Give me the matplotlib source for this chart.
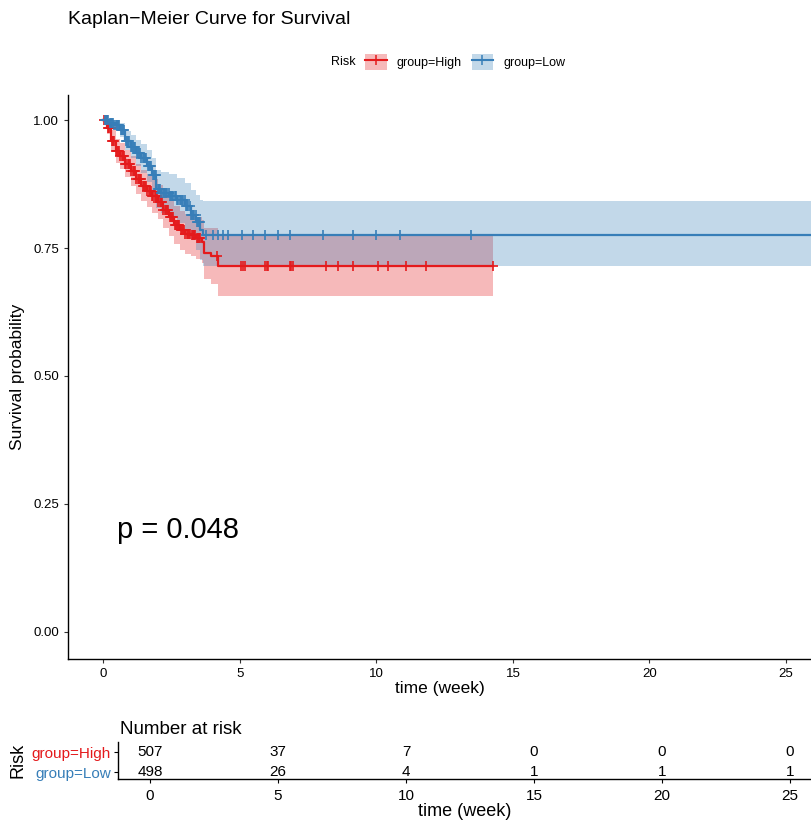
import numpy as np
import matplotlib.pyplot as plt
from matplotlib.patches import Patch
from matplotlib.lines import Line2D

plt.rcParams['font.family'] = ['Liberation Sans', 'DejaVu Sans']

red = '#E41A1C'
blue = '#377EB8'

# KM estimate, high risk group
time_high = [0, 0.15, 0.3, 0.45, 0.6, 0.8, 1.0, 1.2, 1.4, 1.6, 1.8, 2.0, 2.2, 2.4,
             2.6, 2.8, 3.0, 3.2, 3.4, 3.6, 3.7, 3.95, 4.2]
surv_high = [1.0, 0.985, 0.96, 0.94, 0.93, 0.915, 0.90, 0.885, 0.872, 0.862, 0.852,
             0.84, 0.825, 0.81, 0.795, 0.785, 0.778, 0.775, 0.77, 0.762, 0.74, 0.735, 0.714]
upper_high = [1.0, 0.997, 0.98, 0.963, 0.955, 0.942, 0.929, 0.915, 0.903, 0.894, 0.885,
              0.874, 0.86, 0.846, 0.832, 0.823, 0.817, 0.815, 0.811, 0.804, 0.79, 0.79, 0.774]
lower_high = [1.0, 0.973, 0.94, 0.917, 0.905, 0.888, 0.871, 0.855, 0.841, 0.83, 0.819,
              0.806, 0.79, 0.774, 0.758, 0.747, 0.739, 0.735, 0.729, 0.72, 0.69, 0.68, 0.656]
end_high = 14.27
cens_high = [0.04, 0.09, 0.13, 0.18, 0.22, 0.27, 0.31, 0.36, 0.4, 0.45, 0.49, 0.54, 0.58,
             0.63, 0.67, 0.72, 0.76, 0.81, 0.85, 0.9, 0.94, 0.99, 1.03, 1.08, 1.12, 1.17,
             1.21, 1.26, 1.3, 1.35, 1.39, 1.44, 1.48, 1.53, 1.57, 1.62, 1.66, 1.71, 1.75,
             1.8, 1.84, 1.89, 1.93, 1.98, 2.02, 2.07, 2.11, 2.16, 2.2, 2.25, 2.29, 2.34,
             2.38, 2.43, 2.47, 2.52, 2.56, 2.61, 2.65, 2.7, 2.74, 2.79, 2.83, 2.88, 2.92,
             2.97, 3.01, 3.06, 3.1, 3.15, 3.19, 3.24, 3.28, 3.33, 3.37, 3.42, 3.46, 3.51,
             3.55, 4.15, 5.06, 5.12, 5.18, 5.92, 5.98, 6.04, 6.83, 6.89, 6.95, 8.17, 8.6,
             9.15, 10.06, 10.43, 11.1, 11.83, 14.27]

# KM estimate, low risk group
time_low = [0, 0.2, 0.4, 0.6, 0.8, 1.0, 1.2, 1.4, 1.6, 1.8, 1.95, 2.1, 2.4, 2.7,
            3.0, 3.2, 3.4, 3.55, 3.65]
surv_low = [1.0, 0.995, 0.99, 0.98, 0.96, 0.948, 0.936, 0.925, 0.91, 0.892, 0.865,
            0.858, 0.852, 0.843, 0.832, 0.815, 0.80, 0.785, 0.775]
upper_low = [1.0, 1.0, 1.0, 0.994, 0.978, 0.97, 0.961, 0.953, 0.941, 0.926, 0.902,
             0.898, 0.894, 0.887, 0.878, 0.864, 0.853, 0.843, 0.841]
lower_low = [1.0, 0.99, 0.98, 0.966, 0.942, 0.926, 0.911, 0.897, 0.879, 0.858, 0.828,
             0.818, 0.81, 0.799, 0.786, 0.766, 0.747, 0.727, 0.715]
end_low = 27.0
cens_low = [0.05, 0.1, 0.14, 0.19, 0.23, 0.28, 0.32, 0.37, 0.41, 0.46, 0.5, 0.55, 0.59,
            0.64, 0.68, 0.73, 0.77, 0.82, 0.86, 0.91, 0.95, 1.0, 1.04, 1.09, 1.13, 1.18,
            1.22, 1.27, 1.31, 1.36, 1.4, 1.45, 1.49, 1.54, 1.58, 1.63, 1.67, 1.72, 1.76,
            1.81, 1.85, 1.9, 1.94, 1.99, 2.03, 2.08, 2.12, 2.17, 2.21, 2.26, 2.3, 2.35,
            2.39, 2.44, 2.48, 2.53, 2.57, 2.62, 2.66, 2.71, 2.75, 2.8, 2.84, 2.89, 2.93,
            2.98, 3.02, 3.07, 3.11, 3.16, 3.2, 3.25, 3.29, 3.34, 3.38, 3.43, 3.47, 3.5,
            3.54, 3.78, 4.02, 4.2, 4.39, 4.57, 5.07, 5.49, 5.92, 6.4, 6.83, 8.05, 9.15,
            10.0, 10.85, 13.48]

# number at risk table
risk_times = [0, 5, 10, 15, 20, 25]
risk_high = [507, 37, 7, 0, 0, 0]
risk_low = [498, 26, 4, 1, 1, 1]
group_labels = ['group=High', 'group=Low']
pval_text = 'p = 0.048'


def step_at(times, vals, t):
    idx = np.searchsorted(times, t, side='right') - 1
    return np.asarray(vals)[idx]


fig = plt.figure(figsize=(8.12, 8.22), dpi=100)
ax = fig.add_axes([68 / 812, 1 - 659 / 822, 1 - 68 / 812, (659 - 95) / 822])

curves = [
    (time_high, surv_high, lower_high, upper_high, end_high, cens_high, red),
    (time_low, surv_low, lower_low, upper_low, end_low, cens_low, blue),
]
for t, s, lo, up, tend, cens, col in curves:
    tt = list(t) + [tend]
    ax.fill_between(tt, list(lo) + [lo[-1]], list(up) + [up[-1]], step='post',
                    color=col, alpha=0.3, lw=0)
for t, s, lo, up, tend, cens, col in curves:
    tt = list(t) + [tend]
    ax.step(tt, list(s) + [s[-1]], where='post', color=col, lw=1.6)
    ax.plot(cens, step_at(t, s, cens), ls='none', marker='+', ms=6.5, mew=1.2, color=col)

ax.text(0.5, 0.2, pval_text, fontsize=21, va='center', ha='left')

ax.set_xlim(-1.29, 25.95)
ax.set_ylim(-0.053, 1.049)
ax.set_xticks([0, 5, 10, 15, 20, 25])
ax.set_yticks([0, 0.25, 0.5, 0.75, 1.0])
ax.set_yticklabels(['0.00', '0.25', '0.50', '0.75', '1.00'])
ax.tick_params(labelsize=9.5, length=3, width=0.8, color='#333333')
ax.spines[['top', 'right']].set_visible(False)
ax.spines[['left', 'bottom']].set_linewidth(1.0)
ax.set_xlabel('time (week)', fontsize=12.5, labelpad=1)
ax.set_ylabel('Survival probability', fontsize=12.5, labelpad=6)

fig.text(68 / 812, 1 - 20 / 822, 'Kaplan\u2212Meier Curve for Survival',
         fontsize=14, va='center', ha='left')

# legend on top
handles = [(Patch(facecolor=red, alpha=0.3, lw=0), Line2D([], [], color=red, marker='+', ms=7, mew=1.1)),
           (Patch(facecolor=blue, alpha=0.3, lw=0), Line2D([], [], color=blue, marker='+', ms=7, mew=1.1))]
fig.legend(handles, group_labels, loc='center', bbox_to_anchor=(0.573, 1 - 62 / 822), ncol=2,
           frameon=False, fontsize=9, handlelength=1.7, handleheight=1.6,
           handletextpad=0.8, columnspacing=0.8)
fig.text(356 / 812, 1 - 62 / 822, 'Risk', fontsize=9, va='center', ha='right')

# risk table
tab = fig.add_axes([118 / 812, 1 - 779 / 822, 1 - 118 / 812, (779 - 742) / 822])
tab.set_xlim(-1.25, 25.86)
tab.set_ylim(0.65, 2.5)
for i, tx in enumerate(risk_times):
    tab.text(tx, 2, str(risk_high[i]), ha='center', va='center', fontsize=11)
    tab.text(tx, 1, str(risk_low[i]), ha='center', va='center', fontsize=11)
tab.set_xticks(risk_times)
tab.set_yticks([2, 1])
tab.set_yticklabels(group_labels, fontsize=11)
for lab, col in zip(tab.get_yticklabels(), [red, blue]):
    lab.set_color(col)
tab.tick_params(axis='x', labelsize=11, length=3, width=0.8, pad=4)
tab.tick_params(axis='y', length=3, width=0.8, pad=2)
tab.spines[['top', 'right']].set_visible(False)
tab.spines[['left', 'bottom']].set_linewidth(1.0)
tab.set_xlabel('time (week)', fontsize=13, labelpad=0)
tab.set_ylabel('Risk', fontsize=13, labelpad=4)
tab.set_title('Number at risk', fontsize=13.5, loc='left', pad=6, x=0.003)

fig.savefig('out.png', dpi=100)
